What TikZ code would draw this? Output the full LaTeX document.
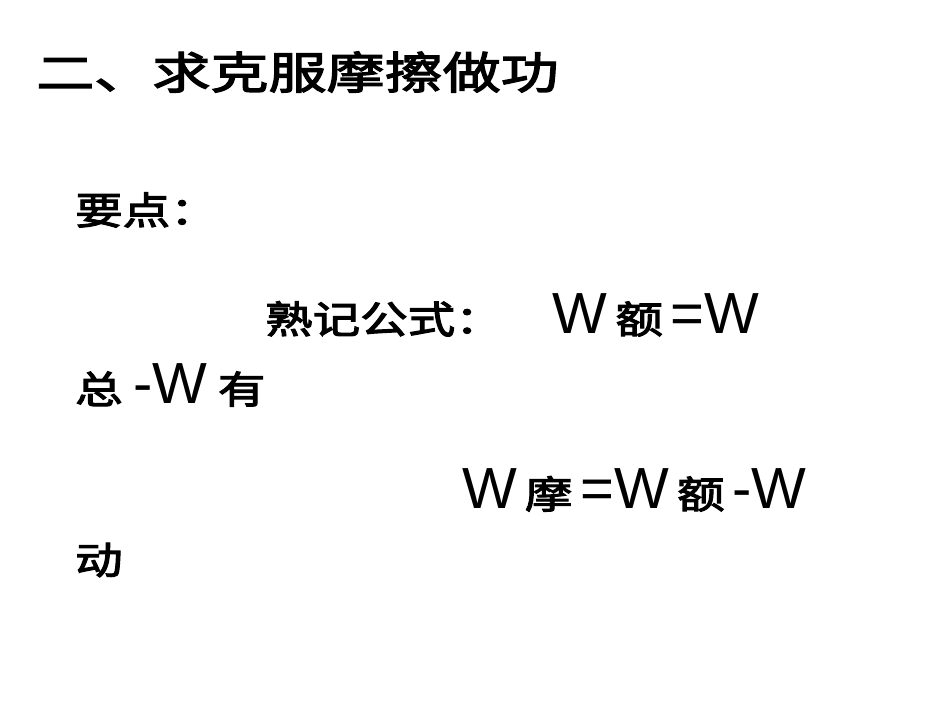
\documentclass[tikz,border=0pt]{standalone}
\usepackage{fontspec}
\setmainfont{Liberation Sans}
\newfontfamily\cjk{Noto Sans CJK SC}[FakeBold=3,FakeStretch=1.25]
\newfontfamily\cjkt{Noto Sans CJK SC}[FakeBold=3,FakeStretch=1.32]
\newcommand\bigw[1]{{\fontspec{Liberation Sans}\fontsize{58}{64}\selectfont #1}}
\newcommand\gap{\hspace{8pt}}
\begin{document}
\begin{tikzpicture}[x=1pt,y=-1pt,t/.style={anchor=west,inner sep=0pt}]
\useasboundingbox[fill=white] (0,0) rectangle (950,713);
\node[t] (title) at (36,72) {\cjkt\fontsize{44}{48}\selectfont 二、\hspace{0pt}求克服摩擦做功};
\node[t] (yd) at (75,210) {\cjk\fontsize{38}{42}\selectfont 要点：};
\node[t] (l1) at (265,315) {\cjk\fontsize{38}{42}\selectfont 熟记公式：\hspace{50pt}\bigw{W}\gap 额\gap \bigw{=W}};
\node[t] (l2) at (75,385) {\cjk\fontsize{38}{42}\selectfont 总 \bigw{-W} 有};
\node[t] (l3) at (462,490) {\cjk\fontsize{38}{42}\selectfont \bigw{W}\gap 摩\gap \bigw{=W}\gap 额\gap \bigw{-W}};
\node[t] (l4) at (75,560) {\cjk\fontsize{38}{42}\selectfont 动};
\end{tikzpicture}
\end{document}
